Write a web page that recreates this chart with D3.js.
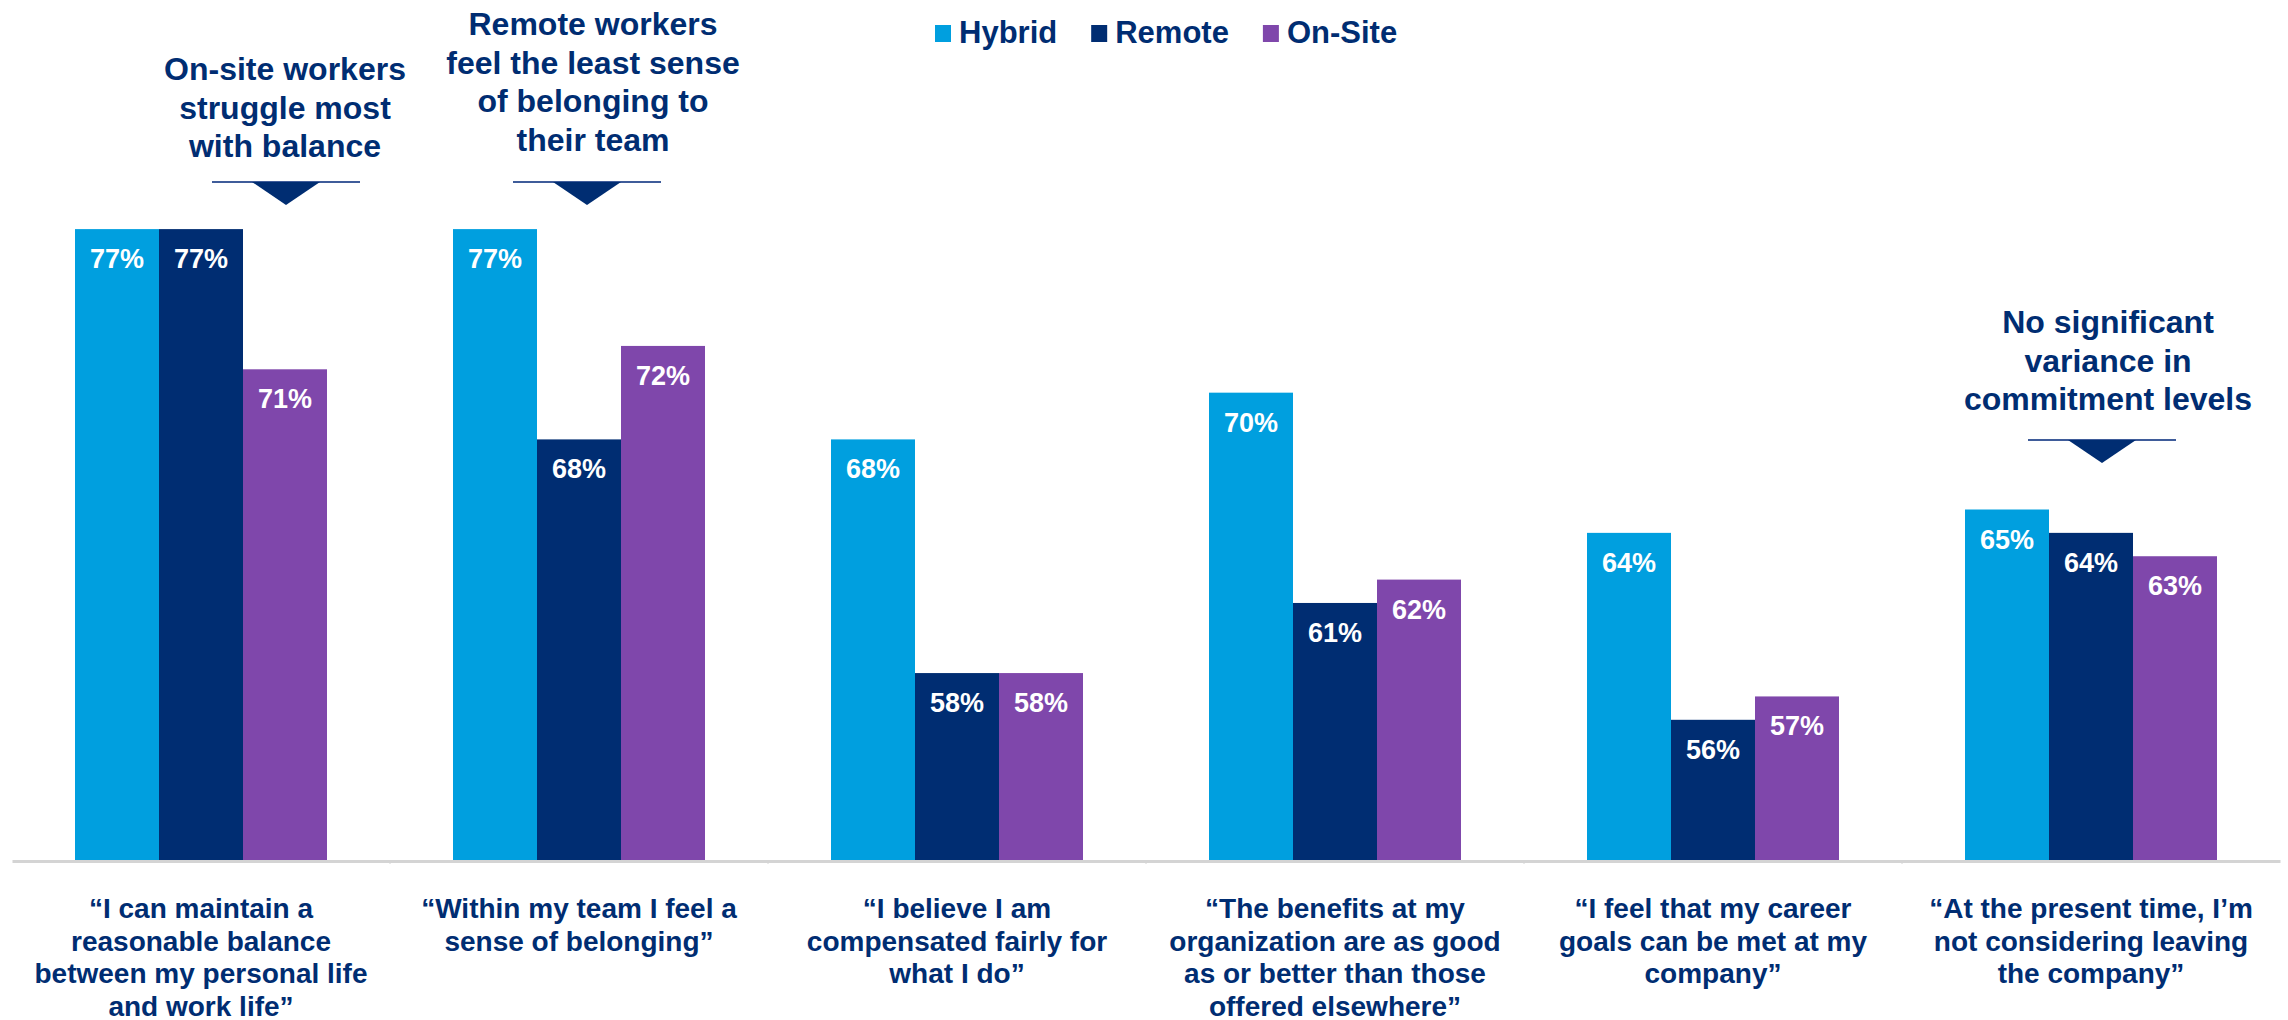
<!DOCTYPE html>
<html>
<head>
<meta charset="utf-8">
<script src="https://cdn.jsdelivr.net/npm/d3@7"></script>
<style>
  html, body { margin: 0; padding: 0; background: #ffffff; }
  svg { display: block; font-family: "Liberation Sans", Arial, Helvetica, sans-serif; font-weight: bold; }
</style>
</head>
<body>
<svg id="chart" width="2288" height="1020"></svg>
<script>
// Survey statements (wrapped into display lines)
const categories = [
  "balance", "belonging", "compensation", "benefits", "career", "retention"
];
const categoryLines = [
  ["\u201CI can maintain a", "reasonable balance", "between my personal life", "and work life\u201D"],
  ["\u201CWithin my team I feel a", "sense of belonging\u201D"],
  ["\u201CI believe I am", "compensated fairly for", "what I do\u201D"],
  ["\u201CThe benefits at my", "organization are as good", "as or better than those", "offered elsewhere\u201D"],
  ["\u201CI feel that my career", "goals can be met at my", "company\u201D"],
  ["\u201CAt the present time, I\u2019m", "not considering leaving", "the company\u201D"]
];

// Share agreeing, by work arrangement (%)
const seriesNames = ["Hybrid", "Remote", "On-Site"];
const hybridValues = [77, 77, 68, 70, 64, 65];
const remoteValues = [77, 68, 58, 61, 56, 64];
const onsiteValues = [71, 72, 58, 62, 57, 63];
const seriesColors = ["#009FDF", "#002D72", "#7F47AB"];

// Callouts: text lines, the statement they point to, and which bar
const callouts = [
  { lines: ["On-site workers", "struggle most", "with balance"], category: "balance", series: "On-Site" },
  { lines: ["Remote workers", "feel the least sense", "of belonging to", "their team"], category: "belonging", series: "Remote" },
  { lines: ["No significant", "variance in", "commitment levels"], category: "retention", series: "Remote" }
];

const navy = "#002D72";
const svg = d3.select("#chart");

const valuesBySeries = [hybridValues, remoteValues, onsiteValues];
const data = categories.map((c, i) => ({
  category: c,
  values: seriesNames.map((s, j) => ({ series: s, value: valuesBySeries[j][i] }))
}));

// Scales
const x0 = d3.scaleBand()
  .domain(categories)
  .range([12, 2280])
  .paddingInner(1 / 3)
  .paddingOuter(1 / 6);
const x1 = d3.scaleBand()
  .domain(seriesNames)
  .range([0, x0.bandwidth()]);
const y = d3.scaleLinear()
  .domain([50, 80])
  .range([860, 159]);
const color = d3.scaleOrdinal().domain(seriesNames).range(seriesColors);

// Bars
const groups = svg.append("g").attr("class", "groups")
  .selectAll("g")
  .data(data)
  .join("g")
  .attr("transform", d => `translate(${x0(d.category)},0)`);

groups.selectAll("rect")
  .data(d => d.values)
  .join("rect")
  .attr("x", d => x1(d.series))
  .attr("y", d => y(d.value))
  .attr("width", x1.bandwidth())
  .attr("height", d => y(y.domain()[0]) - y(d.value))
  .attr("fill", d => color(d.series));

// Value labels inside bar tops
groups.selectAll("text.value")
  .data(d => d.values)
  .join("text")
  .attr("class", "value")
  .attr("x", d => x1(d.series) + x1.bandwidth() / 2)
  .attr("y", d => y(d.value) + 39)
  .attr("text-anchor", "middle")
  .attr("fill", "#ffffff")
  .attr("font-size", 27)
  .text(d => d.value + "%");

// Baseline axis
const xAxis = d3.axisBottom(x0).tickSize(0).tickFormat("");
const axisG = svg.append("g")
  .attr("transform", `translate(0,${y(50) + 1})`)
  .call(xAxis);
axisG.select(".domain").attr("stroke", "#d4d4d4").attr("stroke-width", 3);

// Small separators between statement groups
svg.append("g")
  .selectAll("line")
  .data(d3.range(1, categories.length))
  .join("line")
  .attr("x1", i => x0.range()[0] + i * x0.step())
  .attr("x2", i => x0.range()[0] + i * x0.step())
  .attr("y1", y(50) + 2)
  .attr("y2", y(50) + 4)
  .attr("stroke", "#d4d4d4")
  .attr("stroke-width", 1);

// Statement labels below the axis
const catLabels = svg.append("g").selectAll("text")
  .data(categories)
  .join("text")
  .attr("x", c => x0(c) + x0.bandwidth() / 2)
  .attr("y", 918)
  .attr("text-anchor", "middle")
  .attr("fill", navy)
  .attr("font-size", 28);
catLabels.each(function (c, i) {
  d3.select(this).selectAll("tspan")
    .data(categoryLines[i])
    .join("tspan")
    .attr("x", x0(c) + x0.bandwidth() / 2)
    .attr("dy", (t, k) => k === 0 ? 0 : 32.5)
    .text(t => t);
});

// Legend
const legend = svg.append("g").attr("class", "legend");
let lx = 935;
seriesNames.forEach((s, i) => {
  legend.append("rect")
    .attr("x", lx).attr("y", 25)
    .attr("width", 16).attr("height", 17)
    .attr("fill", color(s));
  const t = legend.append("text")
    .attr("x", lx + 24).attr("y", 43)
    .attr("fill", navy)
    .attr("font-size", 31)
    .text(s);
  lx = lx + 24 + t.node().getComputedTextLength() + 34;
});

// Callouts with pointer
const calloutLayout = [
  { textDx: 0, top: 80, lineY: 182 },
  { textDx: 14, top: 35, lineY: 182 },
  { textDx: 17, top: 333, lineY: 440 }
];
callouts.forEach((c, i) => {
  const lay = calloutLayout[i];
  const cx = x0(c.category) + x1(c.series) + x1.bandwidth() / 2;
  const tx = cx + lay.textDx;
  const g = svg.append("g").attr("class", "callout");
  const t = g.append("text")
    .attr("x", tx).attr("y", lay.top)
    .attr("text-anchor", "middle")
    .attr("fill", navy)
    .attr("font-size", 32);
  t.selectAll("tspan")
    .data(c.lines)
    .join("tspan")
    .attr("x", tx)
    .attr("dy", (d, k) => k === 0 ? 0 : 38.5)
    .text(d => d);
  const ax = cx + (i === 0 ? 1 : lay.textDx > 0 ? lay.textDx - 6 : 0);
  g.append("line")
    .attr("x1", ax - 74).attr("x2", ax + 74)
    .attr("y1", lay.lineY).attr("y2", lay.lineY)
    .attr("stroke", "#3F5C9A").attr("stroke-width", 2);
  g.append("path")
    .attr("d", `M${ax - 34},${lay.lineY} L${ax + 34},${lay.lineY} L${ax},${lay.lineY + 23} Z`)
    .attr("fill", navy);
});
</script>
</body>
</html>
